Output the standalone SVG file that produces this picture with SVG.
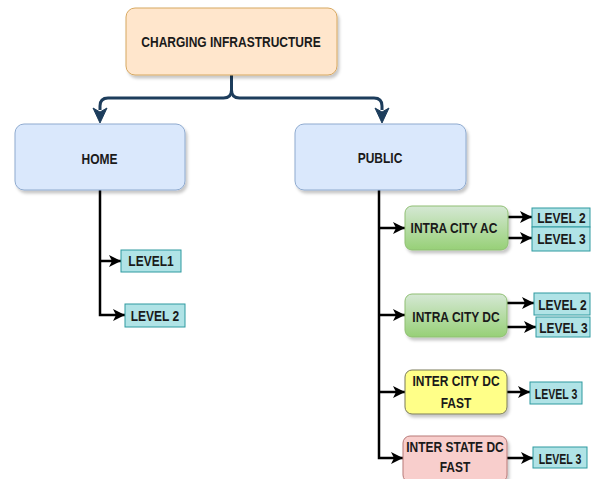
<svg xmlns="http://www.w3.org/2000/svg" width="592" height="479" viewBox="0 0 592 479">
<style>
text{font-family:"Liberation Sans",Arial,sans-serif;font-weight:bold;font-size:12px;fill:#1a1a1a;text-anchor:middle}
.blue{fill:#dae8fc;stroke:#8eaacf}
.orange{fill:#ffe6cc;stroke:#d7a860}
.green{fill:url(#gg);stroke:#8fbf73}
.yellow{fill:#ffff88;stroke:#7a7a5a}
.pink{fill:#f8cecc;stroke:#b87a78}
.lvl{fill:#b0e3e6;stroke:#2f9aa0}
.sh{filter:url(#ds)}
.bl{fill:none;stroke:#000;stroke-width:2.5;marker-end:url(#ah)}
.nv{fill:none;stroke:#1d3d5c;stroke-width:3}
</style>
<defs>
<linearGradient id="gg" x1="0" y1="0" x2="0" y2="1"><stop offset="0" stop-color="#d5e8d4"/><stop offset="1" stop-color="#97d077"/></linearGradient>
<filter id="ds" x="-10%" y="-10%" width="130%" height="140%"><feDropShadow dx="2" dy="3" stdDeviation="1.5" flood-color="#000" flood-opacity="0.22"/></filter>
<marker id="ah" markerUnits="userSpaceOnUse" markerWidth="14" markerHeight="14" refX="12" refY="6" orient="auto"><path d="M0 0 L12 6 L0 12 L3 6 Z" fill="#000"/></marker>
</defs>
<g id="connectors">
<path class="nv" d="M231.5 75 V90 Q231.5 98 223.5 98 H108 Q100 98 100 106 V110"/>
<path class="nv" d="M231.5 90 Q231.5 98 239.5 98 H374 Q382 98 382 106 V110"/>
<path d="M93 108 L100 123 L107 108 L100 112 Z" fill="#1d3d5c" stroke="#1d3d5c" stroke-width="1"/>
<path d="M375 108 L382 123 L389 108 L382 112 Z" fill="#1d3d5c" stroke="#1d3d5c" stroke-width="1"/>
<path class="bl" d="M100 190 V315 H125"/>
<path class="bl" d="M100 261 H121"/>
<path class="bl" d="M379 190 V458 H403"/>
<path class="bl" d="M379 228 H405"/>
<path class="bl" d="M379 315 H405"/>
<path class="bl" d="M379 392 H405"/>
<path class="bl" d="M508 217 H532"/>
<path class="bl" d="M508 238 H532"/>
<path class="bl" d="M507 303 H534"/>
<path class="bl" d="M507 327 H536"/>
<path class="bl" d="M507 392 H530"/>
<path class="bl" d="M507 458 H533"/>
</g>
<g id="charging"><rect class="orange sh" x="126" y="8" width="211" height="67" rx="9"/><text transform="translate(231 47) scale(1 1.2)">CHARGING INFRASTRUCTURE</text></g>
<g id="home"><rect class="blue sh" x="15" y="124" width="170" height="66" rx="9"/><text transform="translate(99.5 164) scale(1 1.2)">HOME</text></g>
<g id="public"><rect class="blue sh" x="295" y="124" width="171" height="66" rx="9"/><text transform="translate(380 163) scale(1 1.2)">PUBLIC</text></g>
<g id="home-l1"><rect class="lvl" x="121" y="250" width="60" height="22"/><text transform="translate(151 266) scale(1 1.2)">LEVEL1</text></g>
<g id="home-l2"><rect class="lvl" x="125" y="304" width="60" height="23"/><text transform="translate(155 321) scale(1 1.2)">LEVEL 2</text></g>
<g id="intra-ac"><rect class="green sh" x="405" y="206" width="103" height="44" rx="7"/><text transform="translate(454 233) scale(1 1.2)">INTRA CITY AC</text></g>
<g id="ac-l2"><rect class="lvl" x="532" y="208" width="58" height="19"/><text transform="translate(561.5 223) scale(1 1.2)">LEVEL 2</text></g>
<g id="ac-l3"><rect class="lvl" x="532" y="227" width="58" height="24"/><text transform="translate(561.5 244) scale(1 1.2)">LEVEL 3</text></g>
<g id="intra-dc"><rect class="green sh" x="405" y="294" width="102" height="43" rx="7"/><text transform="translate(456 322) scale(1 1.2)">INTRA CITY DC</text></g>
<g id="dc-l2"><rect class="lvl" x="534" y="293" width="56" height="22"/><text transform="translate(562.5 310) scale(1 1.2)">LEVEL 2</text></g>
<g id="dc-l3"><rect class="lvl" x="536" y="317" width="54" height="20"/><text transform="translate(563.5 333) scale(1 1.2)">LEVEL 3</text></g>
<g id="inter-city"><rect class="yellow sh" x="405" y="370" width="102" height="44" rx="7"/><text transform="translate(456 386) scale(1 1.2)">INTER CITY DC</text><text transform="translate(456 408) scale(1 1.2)">FAST</text></g>
<g id="ic-l3"><rect class="lvl" x="530" y="382" width="52" height="22"/><text transform="translate(556 399) scale(0.88 1.2)">LEVEL 3</text></g>
<g id="inter-state"><rect class="pink sh" x="403" y="436" width="104" height="46" rx="7"/><text transform="translate(455 452) scale(1 1.2)">INTER STATE DC</text><text transform="translate(455 472) scale(1 1.2)">FAST</text></g>
<g id="is-l3"><rect class="lvl" x="533" y="447" width="54" height="21"/><text transform="translate(560 464) scale(0.88 1.2)">LEVEL 3</text></g>
</svg>
